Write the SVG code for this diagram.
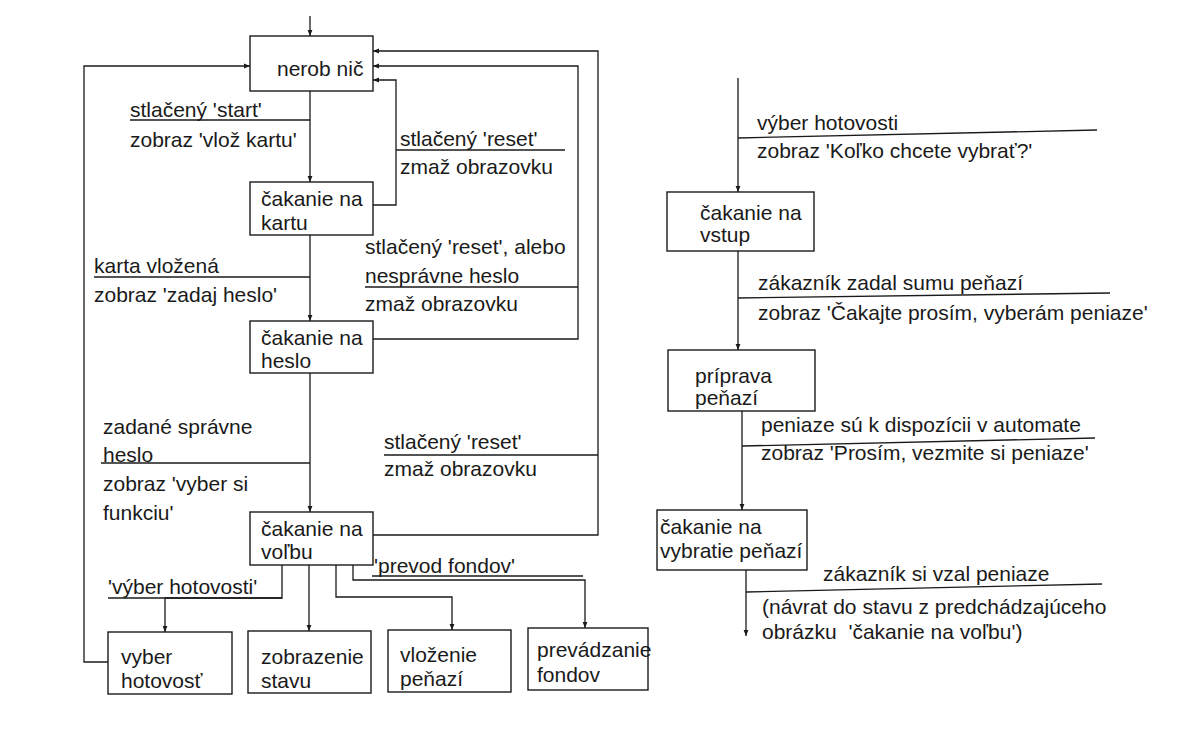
<svg xmlns="http://www.w3.org/2000/svg" width="1200" height="734" viewBox="0 0 1200 734">
<defs>
<marker id="ah" viewBox="0 0 10 10" refX="10" refY="5" markerWidth="7" markerHeight="6" markerUnits="userSpaceOnUse" orient="auto">
<path d="M0,1 L10,5 L0,9 z" fill="#1a1a1a"/>
</marker>
<style>
text{font-family:"Liberation Sans",Arial,Helvetica,sans-serif;font-size:21px;fill:#1a1a1a}
.box{fill:none;stroke:#1a1a1a;stroke-width:1.4}
.c{fill:none;stroke:#1a1a1a;stroke-width:1.3}
.a{fill:none;stroke:#1a1a1a;stroke-width:1.3;marker-end:url(#ah)}
</style>
</defs>
<rect width="1200" height="734" fill="#ffffff"/>

<g id="connectors">
<path class="a" d="M310,16 V36"/>
<path class="a" d="M310,91 V182"/>
<path class="a" d="M310,235 V321"/>
<path class="a" d="M310,373 V512"/>
<path class="a" d="M373,205 H396 V80 H373"/>
<path class="a" d="M373,339 H578 V66 H373"/>
<path class="a" d="M373,535 H598 V51 H373"/>
<path class="a" d="M108,662 H84 V66 H250"/>
<path class="a" d="M282,565 V598 H165 V632"/>
<path class="a" d="M309,565 V631"/>
<path class="a" d="M336,565 V597 H452 V630"/>
<path class="a" d="M353,565 V580 H585 V628"/>
<path class="c" d="M130,120 H310"/>
<path class="c" d="M396,150 H565"/>
<path class="c" d="M365,287 H578"/>
<path class="c" d="M94,277 H310"/>
<path class="c" d="M101,463 H310"/>
<path class="c" d="M384,455 H598"/>
<path class="c" d="M108,598 H282"/>
<path class="c" d="M372,576 H583"/>
<path class="a" d="M738,78 V192"/>
<path class="a" d="M738,251 V350"/>
<path class="a" d="M742,411 V510"/>
<path class="a" d="M746,570 V636"/>
<path class="c" d="M738,138 L1097,130"/>
<path class="c" d="M738,298 L1110,293"/>
<path class="c" d="M742,446 L1095,438"/>
<path class="c" d="M746,592 L1102,584"/>
</g>

<g id="n-nerob"><rect class="box" x="250" y="36" width="123" height="55"/><text x="277" y="76">nerob nič</text></g>
<g id="n-karta"><rect class="box" x="250" y="182" width="123" height="53"/><text x="261" y="206">čakanie na</text><text x="261" y="230">kartu</text></g>
<g id="n-heslo"><rect class="box" x="250" y="321" width="123" height="52"/><text x="261" y="345">čakanie na</text><text x="261" y="368">heslo</text></g>
<g id="n-volba"><rect class="box" x="250" y="512" width="123" height="53"/><text x="261" y="536">čakanie na</text><text x="261" y="559">voľbu</text></g>
<g id="n-vyber"><rect class="box" x="108" y="632" width="124" height="62"/><text x="121" y="664">vyber</text><text x="121" y="688">hotovosť</text></g>
<g id="n-stav"><rect class="box" x="248" y="631" width="123" height="62"/><text x="261" y="664">zobrazenie</text><text x="261" y="688">stavu</text></g>
<g id="n-vlozenie"><rect class="box" x="388" y="630" width="123" height="62"/><text x="400" y="662">vloženie</text><text x="400" y="686">peňazí</text></g>
<g id="n-prevod"><rect class="box" x="528" y="628" width="120" height="62"/><text x="537" y="657">prevádzanie</text><text x="537" y="682">fondov</text></g>

<g id="labels-left">
<text x="130" y="117">stlačený 'start'</text>
<text x="130" y="147">zobraz 'vlož kartu'</text>
<text x="400" y="146">stlačený 'reset'</text>
<text x="400" y="174">zmaž obrazovku</text>
<text x="365" y="254">stlačený 'reset', alebo</text>
<text x="365" y="283">nesprávne heslo</text>
<text x="365" y="311">zmaž obrazovku</text>
<text x="94" y="273">karta vložená</text>
<text x="94" y="302">zobraz 'zadaj heslo'</text>
<text x="103" y="434">zadané správne</text>
<text x="103" y="462">heslo</text>
<text x="103" y="491">zobraz 'vyber si</text>
<text x="103" y="520">funkciu'</text>
<text x="384" y="449">stlačený 'reset'</text>
<text x="384" y="476">zmaž obrazovku</text>
<text x="108" y="594">'výber hotovosti'</text>
<text x="374" y="573">'prevod fondov'</text>
</g>

<g id="n-vstup"><rect class="box" x="667" y="192" width="147" height="59"/><text x="700" y="220">čakanie na</text><text x="700" y="242">vstup</text></g>
<g id="n-priprava"><rect class="box" x="668" y="350" width="147" height="61"/><text x="695" y="383">príprava</text><text x="695" y="405">peňazí</text></g>
<g id="n-vybratie"><rect class="box" x="657" y="510" width="150" height="60"/><text x="660" y="534">čakanie na</text><text x="660" y="558">vybratie peňazí</text></g>

<g id="labels-right">
<text x="757" y="130">výber hotovosti</text>
<text x="757" y="158">zobraz 'Koľko chcete vybrať?'</text>
<text x="758" y="290">zákazník zadal sumu peňazí</text>
<text x="758" y="320">zobraz 'Čakajte prosím, vyberám peniaze'</text>
<text x="761" y="432">peniaze sú k dispozícii v automate</text>
<text x="761" y="460">zobraz 'Prosím, vezmite si peniaze'</text>
<text x="823" y="581">zákazník si vzal peniaze</text>
<text x="762" y="614">(návrat do stavu z predchádzajúceho</text>
<text x="762" y="639">obrázku&#160; 'čakanie na voľbu')</text>
</g>
</svg>
